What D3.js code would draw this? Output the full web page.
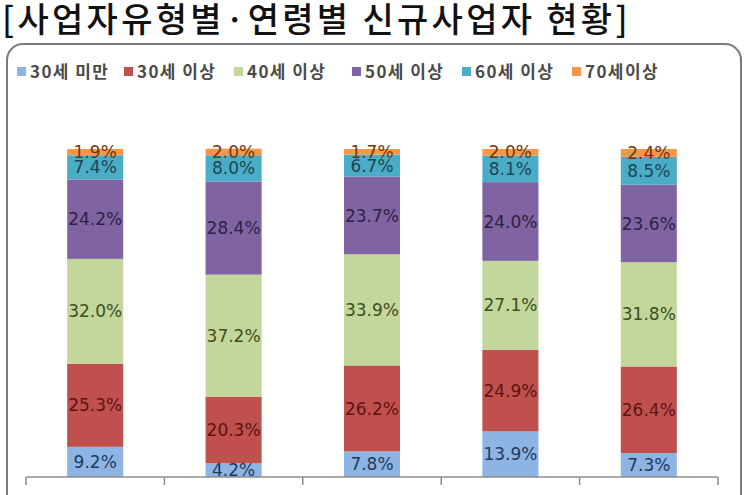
<!DOCTYPE html>
<html><head><meta charset="utf-8">
<script src="https://cdn.jsdelivr.net/npm/d3@7"></script>
<style>
html,body{margin:0;padding:0;background:#fff;}
svg{display:block;}
</style></head>
<body>
<svg id="chart" width="750" height="495"></svg>
<script>
const title = "[사업자유형별·연령별 신규사업자 현황]";
const categories = ["전체", "법인사업자", "일반사업자", "간이사업자", "면세사업자"];
const seriesNames = ["30세 미만", "30세 이상", "40세 이상", "50세 이상", "60세 이상", "70세이상"];
const under30 = [9.2, 4.2, 7.8, 13.9, 7.3];
const over30  = [25.3, 20.3, 26.2, 24.9, 26.4];
const over40  = [32.0, 37.2, 33.9, 27.1, 31.8];
const over50  = [24.2, 28.4, 23.7, 24.0, 23.6];
const over60  = [7.4, 8.0, 6.7, 8.1, 8.5];
const over70  = [1.9, 2.0, 1.7, 2.0, 2.4];
const seriesValues = [under30, over30, over40, over50, over60, over70];
const fills  = ["#8db4e2", "#c0504d", "#c3d69b", "#8064a2", "#4bacc6", "#f79646"];
const labelColors = ["#1f3a5f", "#5c1412", "#3d4f1c", "#2e2147", "#1c4653", "#6e3a0b"];

const svg = d3.select("#chart");

// title
svg.append("text").attr("x", 2).attr("y", 32)
  .attr("font-family", "'Noto Sans CJK KR', sans-serif")
  .attr("font-size", 34).attr("font-weight", 500).attr("fill", "#111")
  .attr("letter-spacing", 3.3)
  .text(title);

// frame
svg.append("rect").attr("x", 7).attr("y", 44).attr("width", 734).attr("height", 480)
  .attr("rx", 16).attr("ry", 16)
  .attr("fill", "none").attr("stroke", "#7a7a7a").attr("stroke-width", 2);

// scales
const x = d3.scaleBand().domain(categories).range([26, 718]).padding(0);
const y = d3.scaleLinear().domain([0, 100]).range([477, 149]);
const barW = x.bandwidth() * 0.405;

// stack data
const rows = categories.map((c, i) => {
  const r = {cat: c};
  seriesNames.forEach((s, j) => r[s] = seriesValues[j][i]);
  return r;
});
const stacked = d3.stack().keys(seriesNames)(rows);

const g = svg.append("g");
stacked.forEach((layer, j) => {
  g.append("g").selectAll("rect").data(layer).join("rect")
    .attr("x", d => x(d.data.cat) + (x.bandwidth() - barW) / 2)
    .attr("y", d => y(d[1]))
    .attr("width", barW)
    .attr("height", d => y(d[0]) - y(d[1]))
    .attr("fill", fills[j]);
});
stacked.forEach((layer, j) => {
  g.append("g").selectAll("text").data(layer).join("text")
    .attr("x", d => x(d.data.cat) + x.bandwidth() / 2)
    .attr("y", d => (y(d[0]) + y(d[1])) / 2)
    .attr("dy", "0.36em")
    .attr("text-anchor", "middle")
    .attr("font-family", "'DejaVu Sans', sans-serif")
    .attr("font-size", 17)
    .attr("fill", labelColors[j])
    .text(d => (d[1] - d[0]).toFixed(1) + "%");
});

// axis with boundary ticks
const axisY = y(0);
const axisG = svg.append("g").attr("transform", `translate(0,${axisY})`)
  .call(d3.axisBottom(x).tickSize(0).tickPadding(22));
axisG.select(".domain").attr("stroke", "#8c8c8c").attr("stroke-width", 1.5)
  .attr("d", `M${x.range()[0]},0H${x.range()[1]}`);
axisG.selectAll(".tick text")
  .attr("font-family", "'Noto Sans CJK KR', sans-serif")
  .attr("font-size", 16).attr("fill", "#404040");
const bounds = categories.map(c => x(c)).concat([x.range()[1]]);
axisG.selectAll("line.bnd").data(bounds).join("line").attr("class", "bnd")
  .attr("x1", d => d).attr("x2", d => d).attr("y1", 0).attr("y2", 8)
  .attr("stroke", "#8c8c8c").attr("stroke-width", 1.5);

// legend
const legendX = [17, 124, 234, 352, 462, 572];
const lgd = svg.append("g");
seriesNames.forEach((s, j) => {
  lgd.append("rect").attr("x", legendX[j]).attr("y", 67).attr("width", 9).attr("height", 9)
    .attr("fill", fills[j]);
  lgd.append("text").attr("x", legendX[j] + 13).attr("y", 78)
    .attr("font-family", "'Noto Sans CJK KR', sans-serif")
    .attr("font-size", 17).attr("font-weight", 700).attr("fill", "#4a4a4a")
    .attr("letter-spacing", 1.4)
    .text(s);
});
</script>
</body></html>
